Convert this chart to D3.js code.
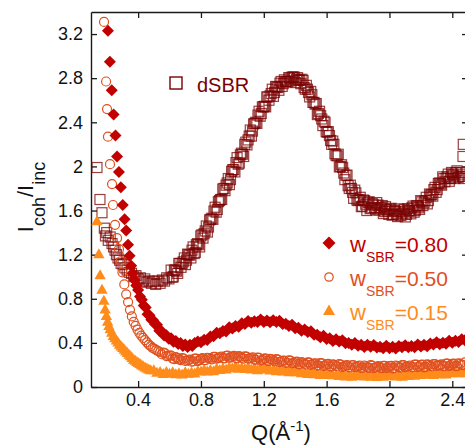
<!DOCTYPE html>
<html>
<head>
<meta charset="utf-8">
<script src="https://cdn.jsdelivr.net/npm/d3@7"></script>
<style>
html,body{margin:0;padding:0;background:#fff;}
svg{display:block;font-family:"Liberation Sans",Arial,sans-serif;}
</style>
</head>
<body>
<svg id="chart" width="465" height="448"></svg>
<script>
// ---------- data ----------
const xTicks = [0.4, 0.8, 1.2, 1.6, 2.0, 2.4];
const yTicks = [0, 0.4, 0.8, 1.2, 1.6, 2.0, 2.4, 2.8, 3.2];

const qDSBR = [0.138,0.157,0.170,0.185,0.192,0.200,0.210,0.222,0.234,0.244,0.253,0.262,0.272,0.282,0.292,0.304,0.316,0.330,0.344,0.358,0.372,0.386,0.400,0.414,0.428,0.442,0.456,0.470,0.484,0.498,0.512,0.526,0.540,0.554,0.568,0.582,0.596,0.610,0.624,0.638,0.652,0.666,0.680,0.694,0.708,0.722,0.736,0.750,0.764,0.778,0.792,0.806,0.820,0.834,0.848,0.862,0.876,0.890,0.904,0.918,0.932,0.946,0.960,0.974,0.988,1.002,1.016,1.030,1.044,1.058,1.072,1.086,1.100,1.114,1.128,1.142,1.156,1.170,1.184,1.198,1.212,1.226,1.240,1.254,1.268,1.282,1.296,1.310,1.324,1.338,1.352,1.366,1.380,1.394,1.408,1.422,1.436,1.450,1.464,1.478,1.492,1.506,1.520,1.534,1.548,1.562,1.576,1.590,1.604,1.618,1.632,1.646,1.660,1.674,1.688,1.702,1.716,1.730,1.744,1.758,1.772,1.786,1.800,1.814,1.828,1.842,1.856,1.870,1.884,1.898,1.912,1.926,1.940,1.954,1.968,1.982,1.996,2.010,2.024,2.038,2.052,2.066,2.080,2.094,2.108,2.122,2.136,2.150,2.164,2.178,2.192,2.206,2.220,2.234,2.248,2.262,2.276,2.290,2.304,2.318,2.332,2.346,2.360,2.374,2.388,2.402,2.416,2.430,2.444,2.458,2.472,2.470,2.468,
  0.617,0.631,0.645,0.659,0.673,0.687,0.701,0.715,0.729,0.743,
  0.757,0.771,0.785,0.799,0.813,0.827,0.841,0.855,0.869,0.883,
  0.897,0.911,0.925,0.939,0.953,0.967,0.981,0.995,1.009,1.023,
  1.037,1.051,1.065,1.079,1.093,1.107,1.121,1.135,1.149,1.163,
  1.177,1.191,1.205,1.219,1.233,1.247,1.261,1.275,1.289,1.303,
  1.317,1.331,1.345,1.359,1.373,1.387,1.401,1.415,1.429,1.443,
  1.457,1.471,1.485,1.499,1.513,1.527,1.541,1.555,1.569,1.583,
  1.597,1.611,1.625,1.639,1.653,1.667,1.681,1.695,1.709,1.723,
  1.737,1.751,1.765,1.779,1.793,1.807,1.821,1.835,1.849,1.863,
  1.877,1.891,1.905,1.919,1.933,1.947,1.961,1.975,1.989,2.003,
  2.017,2.031,2.045,2.059,2.073,2.087,2.101,2.115,2.129,2.143,
  2.157,2.171,2.185,2.199,2.213,2.227,2.241,2.255,2.269,2.283,
  2.297,2.311,2.325,2.339,2.353,2.367,2.381,2.395,2.409,2.423,
  2.437,2.451,2.465];
const vDSBR = [1.99,1.70,1.58,1.44,1.37,1.40,1.33,1.36,1.30,1.27,1.24,1.20,1.17,1.15,1.12,1.11,1.08,1.06,1.04,1.03,1.00,1.01,0.98,0.99,0.96,0.98,0.95,0.96,0.94,0.96,0.93,0.96,0.94,0.97,0.96,0.99,0.98,
  1.06,1.00,1.06,1.03,1.12,1.12,1.17,1.15,1.20,1.17,
  1.27,1.22,1.30,1.27,1.38,1.39,1.46,1.45,1.52,1.52,
  1.63,1.61,1.69,1.70,1.80,1.83,1.89,1.88,1.97,1.95,
  2.08,2.03,2.12,2.09,2.22,2.24,2.33,2.32,2.39,2.39,
  2.50,2.48,2.54,2.54,2.63,2.64,2.70,2.67,2.72,2.69,
  2.77,2.75,2.77,2.77,2.80,2.81,2.81,2.79,2.78,2.75,
  2.78,2.70,2.70,2.63,2.65,2.58,2.57,2.48,2.46,2.37,
  2.40,2.31,2.28,2.20,2.20,2.10,2.11,2.00,1.99,1.88,
  1.92,1.80,1.80,1.71,1.76,1.69,1.72,1.64,1.69,1.60,
  1.68,1.625,1.65,1.605,1.65,1.62,1.645,1.59,1.61,1.565,
  1.62,1.565,1.59,1.545,1.595,1.575,1.61,1.565,1.60,1.57,
  1.64,1.60,1.64,1.61,1.68,1.67,1.72,1.69,1.74,1.73,
  1.81,1.79,1.85,1.83,1.89,1.89,1.93,1.89,1.93,1.89,
  1.96,1.91,1.93,1.89,
  2.20,2.09,
  0.995,1.06,1.05,1.12,1.085,1.135,1.11,1.205,1.195,1.24,
  1.21,1.29,1.29,1.37,1.35,1.415,1.405,1.515,1.53,1.595,
  1.585,1.68,1.70,1.795,1.78,1.85,1.835,1.955,1.97,2.035,
  2.02,2.105,2.11,2.20,2.195,2.275,2.275,2.385,2.40,2.465,
  2.455,2.54,2.545,2.63,2.60,2.66,2.635,2.725,2.715,2.755,
  2.725,2.785,2.765,2.805,2.775,2.81,2.76,2.805,2.785,2.79,
  2.715,2.735,2.67,2.68,2.58,2.565,2.47,2.50,2.43,2.41,
  2.315,2.315,2.235,2.23,2.115,2.095,1.995,2.015,1.94,1.92,
  1.825,1.83,1.765,1.785,1.695,1.70,1.635,1.695,1.657,1.672,
  1.617,1.662,1.627,1.672,1.605,1.627,1.572,1.635,1.597,1.612,
  1.557,1.602,1.567,1.615,1.555,1.587,1.542,1.617,1.595,1.625,
  1.585,1.645,1.625,1.69,1.645,1.69,1.66,1.75,1.745,1.79,
  1.765,1.845,1.84,1.905,1.86,1.905,1.865,1.945,1.92,1.945,
  1.90,1.945,1.91];

const q80 = [0.208,0.220,0.232,0.244,0.256,0.266,0.278,0.290,0.302,0.314,0.324,0.336,0.346,0.356,0.366,0.376,0.388,0.400,0.412,0.424,0.436,0.448,0.460,0.472,0.484,0.496,0.508,0.520,0.535,0.550,0.565,0.580,0.595,0.610,0.625,0.640,0.655,0.670,0.685,0.700,0.715,0.730,0.745,0.760,0.78,0.80,0.82,0.84,0.86,0.88,0.90,0.92,0.94,0.96,0.98,1.00,1.02,1.04,1.06,1.08,1.10,1.12,1.14,1.16,1.18,1.20,1.22,1.24,1.26,1.28,1.30,1.32,1.34,1.36,1.38,1.40,1.42,1.44,1.46,1.48,1.50,1.52,1.54,1.56,1.58,1.60,1.62,1.64,1.66,1.68,1.70,1.72,1.74,1.76,1.78,1.80,1.82,1.84,1.86,1.88,1.90,1.92,1.94,1.96,1.98,2.00,2.02,2.04,2.06,2.08,2.10,2.12,2.14,2.16,2.18,2.20,2.22,2.24,2.26,2.28,2.30,2.32,2.34,2.36,2.38,2.40,2.42,2.44,2.46,2.48];
const v80 = [3.23,2.95,2.69,2.47,2.28,2.09,1.95,1.81,1.65,1.52,1.42,1.29,1.19,1.10,1.03,0.97,0.92,0.88,0.82,0.79,0.74,0.72,0.66,0.65,0.61,0.605,0.57,
  0.565,0.51,0.505,0.468,0.47,0.438,0.442,0.41,0.418,0.39,0.398,0.372,0.385,0.362,0.382,0.372,0.398,
  0.412,0.405,0.429,0.427,0.459,0.461,0.493,0.487,0.507,0.504,
  0.542,0.53,0.554,0.547,0.579,0.571,0.598,0.582,0.597,0.589,
  0.612,0.59,0.604,0.587,0.606,0.589,0.60,0.572,0.574,0.552,
  0.565,0.533,0.537,0.51,0.521,0.498,0.505,0.474,0.474,0.451,
  0.465,0.435,0.441,0.417,0.432,0.412,0.423,0.396,0.40,0.382,
  0.40,0.374,0.384,0.363,0.382,0.366,0.381,0.358,0.366,0.352,
  0.374,0.352,0.366,0.349,0.372,0.36,0.379,0.36,0.372,0.361,
  0.386,0.367,0.384,0.37,0.395,0.385,0.405,0.388,0.402,0.393,
  0.42,0.402,0.42,0.407,0.433,0.424];

const q50 = [0.183,0.196,0.202,0.208,0.221,0.234,0.240,0.253,0.266,0.278,0.289,0.300,0.312,0.324,0.336,0.348,0.360,0.372,0.384,0.396,0.408,0.420,0.432,0.444,0.456,0.468,0.480,0.492,0.504,0.516,0.528,0.540,0.56,0.58,0.60,0.62,0.64,0.66,0.68,0.70,0.72,0.74,0.76,0.78,0.80,0.82,0.84,0.86,0.88,0.90,0.92,0.94,0.96,0.98,1.00,1.02,1.04,1.06,1.08,1.10,1.12,1.14,1.16,1.18,1.20,1.22,1.24,1.26,1.28,1.30,1.32,1.34,1.36,1.38,1.40,1.42,1.44,1.46,1.48,1.50,1.52,1.54,1.56,1.58,1.60,1.62,1.64,1.66,1.68,1.70,1.72,1.74,1.76,1.78,1.80,1.82,1.84,1.86,1.88,1.90,1.92,1.94,1.96,1.98,2.00,2.02,2.04,2.06,2.08,2.10,2.12,2.14,2.16,2.18,2.20,2.22,2.24,2.26,2.28,2.30,2.32,2.34,2.36,2.38,2.40,2.42,2.44,2.46,2.48,
  0.55,0.57,0.59,0.61,0.63,0.65,0.67,0.69,0.71,0.73,
  0.75,0.77,0.79,0.81,0.83,0.85,0.87,0.89,0.91,0.93,
  0.95,0.97,0.99,1.01,1.03,1.05,1.07,1.09,1.11,1.13,
  1.15,1.17,1.19,1.21,1.23,1.25,1.27,1.29,1.31,1.33,
  1.35,1.37,1.39,1.41,1.43,1.45,1.47,1.49,1.51,1.53,
  1.55,1.57,1.59,1.61,1.63,1.65,1.67,1.69,1.71,1.73,
  1.75,1.77,1.79,1.81,1.83,1.85,1.87,1.89,1.91,1.93,
  1.95,1.97,1.99,2.01,2.03,2.05,2.07,2.09,2.11,2.13,
  2.15,2.17,2.19,2.21,2.23,2.25,2.27,2.29,2.31,2.33,
  2.35,2.37,2.39,2.41,2.43,2.45,2.47];
const v50 = [3.31,2.77,2.52,2.27,2.02,1.84,1.65,1.47,1.35,1.25,1.14,1.04,0.93,0.84,0.77,0.70,0.64,0.59,0.555,0.52,0.49,0.465,0.445,0.425,0.405,0.385,0.37,0.355,0.345,0.335,0.325,0.315,
  0.312,0.28,0.285,0.258,0.27,0.251,0.263,0.236,0.243,0.229,
  0.257,0.235,0.255,0.243,0.265,0.256,0.273,0.256,0.268,0.259,
  0.282,0.265,0.275,0.263,0.28,0.266,0.278,0.256,0.263,0.249,
  0.267,0.24,0.255,0.238,0.255,0.241,0.253,0.226,0.238,0.219,
  0.242,0.215,0.225,0.208,0.225,0.211,0.223,0.201,0.213,0.194,
  0.217,0.19,0.205,0.188,0.205,0.191,0.208,0.181,0.193,0.179,
  0.197,0.18,0.19,0.173,0.195,0.176,0.198,0.171,0.183,0.174,
  0.192,0.17,0.19,0.168,0.195,0.181,0.198,0.181,0.188,0.179,
  0.202,0.18,0.20,0.178,0.205,0.191,0.208,0.191,0.198,0.189,
  0.212,0.19,0.21,0.188,0.215,0.201,0.223,
  0.297,0.307,0.281,0.285,0.253,0.262,0.243,0.258,0.239,0.248,
  0.232,0.257,0.243,0.262,0.243,0.262,0.251,0.273,0.262,0.275,
  0.26,0.284,0.268,0.282,0.26,0.275,0.258,0.276,0.259,0.268,
  0.247,0.264,0.246,0.26,0.235,0.25,0.233,0.248,0.232,0.24,
  0.22,0.239,0.218,0.23,0.205,0.22,0.203,0.221,0.207,0.215,
  0.195,0.214,0.196,0.21,0.185,0.20,0.186,0.203,0.187,0.198,
  0.177,0.199,0.183,0.195,0.173,0.187,0.173,0.193,0.177,0.19,
  0.172,0.192,0.178,0.192,0.17,0.19,0.176,0.198,0.184,0.195,
  0.18,0.202,0.188,0.202,0.18,0.20,0.186,0.208,0.194,0.205,
  0.19,0.212,0.198,0.212,0.19,0.21,0.198];

const q15 = [0.138,0.150,0.158,0.170,0.182,0.190,0.198,0.206,0.214,0.222,0.232,0.242,0.252,0.262,0.272,0.282,0.292,0.302,0.312,0.322,0.332,0.342,0.352,0.362,0.372,0.382,0.392,0.402,0.412,0.422,0.432,0.444,0.456,0.468,0.480,0.50,0.52,0.54,0.56,0.58,0.60,0.62,0.64,0.66,0.68,0.70,0.72,0.74,0.76,0.78,0.80,0.82,0.84,0.86,0.88,0.90,0.92,0.94,0.96,0.98,1.00,1.02,1.04,1.06,1.08,1.10,1.12,1.14,1.16,1.18,1.20,1.22,1.24,1.26,1.28,1.30,1.32,1.34,1.36,1.38,1.40,1.42,1.44,1.46,1.48,1.50,1.52,1.54,1.56,1.58,1.60,1.62,1.64,1.66,1.68,1.70,1.72,1.74,1.76,1.78,1.80,1.82,1.84,1.86,1.88,1.90,1.92,1.94,1.96,1.98,2.00,2.02,2.04,2.06,2.08,2.10,2.12,2.14,2.16,2.18,2.20,2.22,2.24,2.26,2.28,2.30,2.32,2.34,2.36,2.38,2.40,2.42,2.44,2.46,2.48];
const v15 = [1.50,1.20,1.01,0.88,0.78,0.70,0.64,0.59,0.55,0.52,0.49,0.46,0.44,0.42,0.40,0.38,0.365,0.35,0.335,0.32,0.305,0.29,0.275,0.26,0.245,0.235,0.225,0.215,0.205,0.195,0.185,0.175,0.165,0.155,0.15,
  0.15,0.127,0.134,0.115,0.133,0.117,0.131,0.113,0.122,0.111,
  0.13,0.117,0.129,0.12,0.143,0.137,0.151,0.138,0.152,0.141,
  0.165,0.152,0.164,0.155,0.173,0.167,0.181,0.163,0.172,0.161,
  0.175,0.157,0.169,0.15,0.168,0.157,0.166,0.148,0.157,0.141,
  0.155,0.137,0.144,0.13,0.143,0.132,0.141,0.123,0.127,0.116,
  0.13,0.112,0.119,0.105,0.118,0.107,0.121,0.103,0.107,0.096,
  0.115,0.092,0.109,0.09,0.108,0.097,0.111,0.093,0.097,0.091,
  0.11,0.087,0.104,0.09,0.108,0.097,0.111,0.093,0.107,0.091,
  0.115,0.097,0.109,0.10,0.118,0.107,0.121,0.108,0.117,0.106,
  0.13,0.112,0.124,0.11,0.133,0.122,0.136,0.123,0.127,0.121];

// ---------- colours ----------
const cDSBR = "#7a0000", c80 = "#c20000", c50 = "#e0501e", c15 = "#ff8c1a";

// ---------- layout ----------
const svg = d3.select("#chart");
const x = d3.scaleLinear().domain([0.1, 2.5]).range([91, 468]);
const y = d3.scaleLinear().domain([0, 3.4]).range([387, 12]);
const font = '"Liberation Sans",Arial,sans-serif';

const fmt = d => d3.format("")(+d.toFixed(1));

function styleAxis(g){
  g.selectAll("path.domain").attr("stroke","#1a1a1a").attr("stroke-width",1.4);
  g.selectAll(".tick line").attr("stroke","#1a1a1a").attr("stroke-width",1.3);
  g.selectAll("text").attr("font-family",font).attr("font-size",18).attr("fill","#111");
}

svg.append("g").attr("transform","translate(0,387)")
  .call(d3.axisBottom(x).tickValues(xTicks).tickSizeInner(-6).tickSizeOuter(0).tickPadding(6).tickFormat(fmt))
  .call(styleAxis);
svg.append("g").attr("transform","translate(0,12)")
  .call(d3.axisTop(x).tickValues(xTicks).tickSizeInner(-6).tickSizeOuter(0).tickFormat(""))
  .call(styleAxis);
svg.append("g").attr("transform","translate(91,0)")
  .call(d3.axisLeft(y).tickValues(yTicks).tickSizeInner(-6).tickSizeOuter(0).tickPadding(8).tickFormat(fmt))
  .call(styleAxis);
svg.append("g").attr("transform","translate(468,0)")
  .call(d3.axisRight(y).tickValues(yTicks).tickSizeInner(-6).tickSizeOuter(0).tickFormat(""))
  .call(styleAxis);

// ---------- markers ----------
const plot = svg.append("g");
const zip = (q,v) => q.map((d,i)=>({q:d, v:v[i]}));
const triPath = "M0,-6.3L5.7,3.7L-5.7,3.7Z";
const diaPath = "M0,-6L6,0L0,6L-6,0Z";

plot.append("g").selectAll("rect").data(zip(qDSBR,vDSBR)).join("rect")
  .attr("x", d=>x(d.q)-5).attr("y", d=>y(d.v)-5).attr("width",10).attr("height",10)
  .attr("fill","none").attr("stroke",cDSBR).attr("stroke-width",1.2).attr("stroke-opacity",0.75);

plot.append("g").selectAll("path").data(zip(q15,v15)).join("path")
  .attr("d",triPath).attr("transform",d=>`translate(${x(d.q)},${y(d.v)})`).attr("fill",c15);

plot.append("g").selectAll("circle").data(zip(q50,v50)).join("circle")
  .attr("cx",d=>x(d.q)).attr("cy",d=>y(d.v)).attr("r",4.5)
  .attr("fill","none").attr("stroke",c50).attr("stroke-width",1.2);

plot.append("g").selectAll("path").data(zip(q80,v80)).join("path")
  .attr("d",diaPath).attr("transform",d=>`translate(${x(d.q)},${y(d.v)})`).attr("fill",c80);

// ---------- legends ----------
svg.append("rect").attr("x",170).attr("y",77).attr("width",12).attr("height",12)
  .attr("fill","none").attr("stroke",cDSBR).attr("stroke-width",1.4);
svg.append("text").attr("x",197).attr("y",92).attr("font-family",font).attr("font-size",20)
  .attr("fill",cDSBR).text("dSBR");

const legendRows = [
  {label:"=0.80", color:c80, sym:"dia", cy:243},
  {label:"=0.50", color:c50, sym:"circ", cy:277},
  {label:"=0.15", color:c15, sym:"tri", cy:311}
];
legendRows.forEach(r=>{
  if(r.sym==="dia") svg.append("path").attr("d","M0,-6.5L6.5,0L0,6.5L-6.5,0Z").attr("transform",`translate(329,${r.cy})`).attr("fill",r.color);
  if(r.sym==="circ") svg.append("circle").attr("cx",329).attr("cy",r.cy).attr("r",4.2).attr("fill","none").attr("stroke",r.color).attr("stroke-width",1.2);
  if(r.sym==="tri") svg.append("path").attr("d","M0,-6.5L6,4L-6,4Z").attr("transform",`translate(329,${r.cy})`).attr("fill",r.color);
  const t = svg.append("text").attr("x",350).attr("y",r.cy+9).attr("font-family",font).attr("font-size",21).attr("fill",r.color);
  t.append("tspan").attr("font-size",22).text("w");
  t.append("tspan").attr("font-size",14).attr("dy",10).text("SBR");
  t.append("tspan").attr("dy",-10).text(r.label);
});

// ---------- axis titles ----------
const xt = svg.append("text").attr("x",281).attr("y",440).attr("text-anchor","middle")
  .attr("font-family",font).attr("font-size",22).attr("fill","#111");
xt.append("tspan").text("Q(Å");
xt.append("tspan").attr("font-size",15).attr("dy",-9).text("-1");
xt.append("tspan").attr("dy",9).text(")");

const yt = svg.append("text").attr("transform","translate(33,197) rotate(-90)").attr("text-anchor","middle")
  .attr("font-family",font).attr("font-size",22).attr("fill","#111");
yt.append("tspan").text("I");
yt.append("tspan").attr("font-size",18).attr("dy",12).text("coh");
yt.append("tspan").attr("dy",-12).text("/I");
yt.append("tspan").attr("font-size",18).attr("dy",12).text("inc");
</script>
</body>
</html>
